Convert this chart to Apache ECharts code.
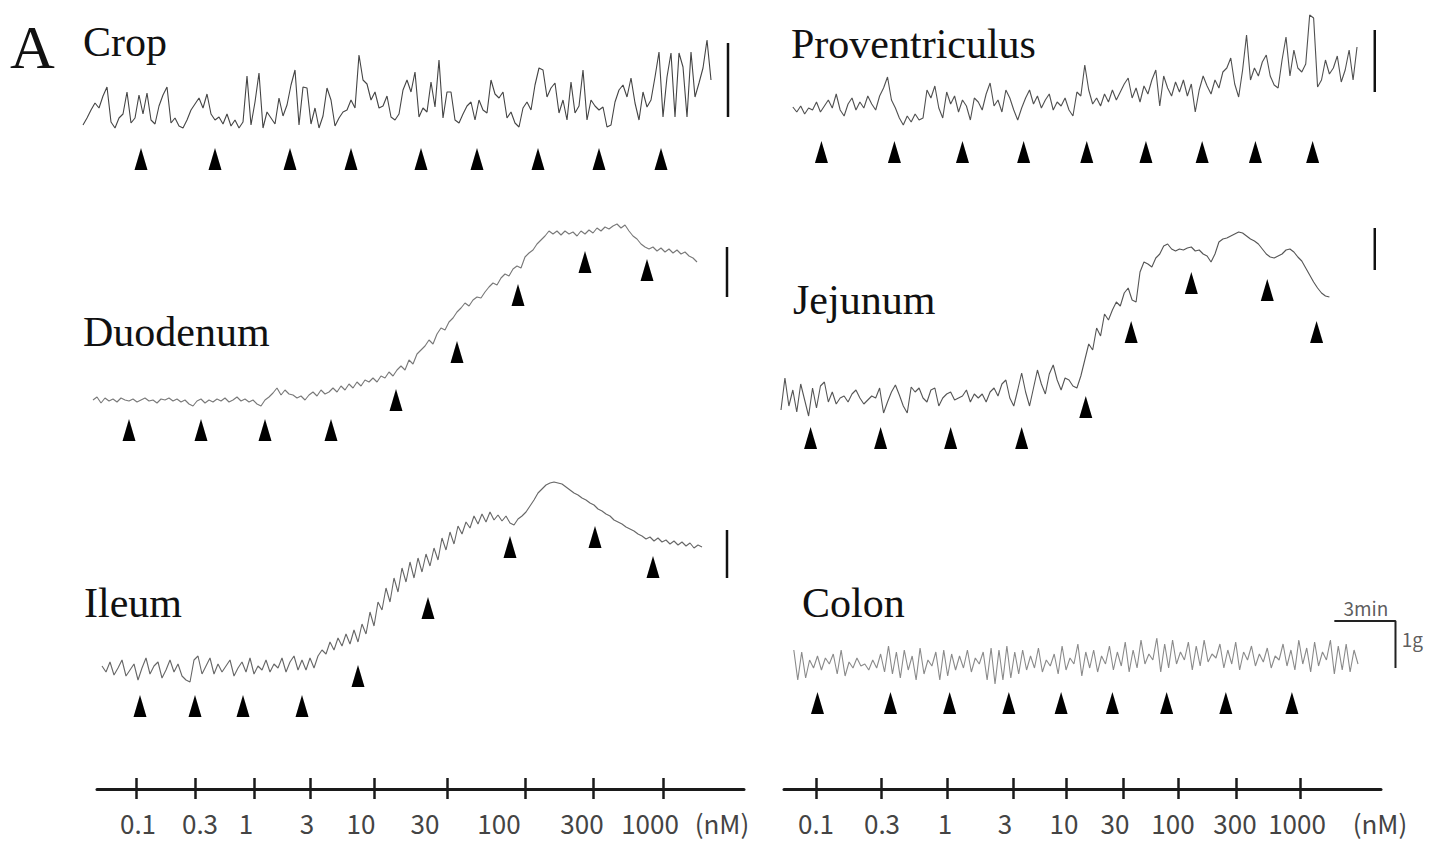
<!DOCTYPE html>
<html>
<head>
<meta charset="utf-8">
<script src="https://cdn.jsdelivr.net/npm/echarts@6/dist/echarts.min.js"></script>
<style>
html,body{margin:0;padding:0;background:#ffffff;}
#chart{width:1431px;height:843px;}
</style>
</head>
<body>
<div id="chart"></div>
<script>
// ================= DATA (read from the reference recording) =================
// time base: arbitrary time units (3 min = 62 units), one sample every SAMPLE_STEP units
// tension: arbitrary units (1 g = 47 units)
const SAMPLE_STEP = 4;

// ---- Crop ----
const cropStart = 3;
const cropTrace = [
  55,62,70,77,72,84,93,58,52,62,
  66,88,57,62,85,66,87,60,56,74,
  85,93,57,62,54,52,60,70,76,82,
  72,86,66,60,63,56,66,54,60,52,
  58,104,55,78,107,52,68,62,56,82,
  64,75,95,110,55,93,92,56,72,52,
  64,92,80,54,62,68,70,80,72,125,
  100,96,80,88,72,74,84,63,60,66,
  90,100,88,108,63,72,68,98,73,120,
  62,88,88,60,57,66,74,78,60,80,
  70,67,100,86,82,88,62,68,57,53,
  72,78,70,95,112,110,83,92,97,67,
  80,60,98,67,74,110,60,80,74,70,
  73,53,55,78,90,95,83,102,77,60,
  88,73,80,103,128,63,103,127,63,127,
  113,63,128,83,97,112,140,100
];
const cropDoseTimes = [61,135,210,271,341,397,458,519,581];
const cropArrowLevels = [21,21,21,21,21,21,21,21,21];
const cropBarTime = 648, cropBarRange = [63,137];

// ---- Proventriculus ----
const provStart = 13;
const provTrace = [
  73,68,74,66,72,70,78,68,74,80,
  72,86,70,64,76,82,70,78,72,84,
  76,70,84,92,103,80,72,62,55,64,
  58,66,60,62,90,82,94,72,62,88,
  76,84,68,80,74,60,82,78,70,86,
  97,74,80,68,90,82,70,60,72,82,
  90,76,84,72,80,86,70,78,74,82,
  70,64,88,84,115,90,76,82,74,86,
  78,90,80,88,96,102,82,92,78,94,
  86,100,110,74,104,92,84,98,88,100,
  84,96,68,90,104,94,86,100,92,108,
  112,122,96,83,110,145,100,112,104,118,
  125,104,95,92,120,143,104,130,112,108,
  116,165,162,93,100,120,106,112,124,98,
  110,130,100,133
];
const provDoseTimes = [42,116,185,247,311,371,428,482,540];
const provArrowLevels = [28,28,28,28,28,28,28,28,28];
const provBarTime = 603, provBarRange = [88,150];

// ---- Duodenum ----
const duodStart = 13;
const duodTrace = [
  50,53,47,52,49,51,48,52,50,49,
  51,48,50,52,49,50,47,51,50,52,
  49,51,48,50,46,44,49,51,47,50,
  48,51,49,52,48,50,53,49,51,48,
  50,46,44,50,53,57,62,55,60,56,
  55,52,54,50,55,58,54,60,56,58,
  62,58,64,60,66,62,68,64,70,68,
  72,68,74,72,78,74,80,84,80,90,
  86,96,100,104,110,106,116,122,120,128,
  132,138,142,147,144,150,153,152,158,163,
  167,165,172,176,174,181,184,182,193,197,
  200,206,210,214,219,216,219,215,219,216,
  218,214,219,216,220,217,222,219,223,221,
  224,226,222,225,219,214,211,206,203,201,
  203,199,202,198,201,197,200,196,198,194,192,188
];
const duodDoseTimes = [49,121,185,251,316,377,438,505,567];
const duodArrowLevels = [20,20,20,20,50,98,155,188,180];
const duodBarTime = 647, duodBarRange = [153,203];

// ---- Jejunum ----
const jejStart = 1;
const jejTrace = [
  40,72,44,60,38,66,50,34,62,42,
  64,68,48,58,46,52,54,48,56,60,
  52,46,50,54,52,62,37,48,58,65,
  55,44,37,63,58,62,52,48,60,62,
  44,52,56,58,50,52,54,60,48,56,
  52,56,48,58,62,54,66,70,52,44,
  60,77,58,44,62,80,66,56,76,85,
  70,60,72,70,64,62,74,
  90,106,100,122,114,136,130,140,148,144,
  157,162,150,148,178,188,186,183,192,196,
  204,206,201,199,201,200,202,203,199,200,
  196,194,188,196,208,211,212,214,216,218,
  217,214,211,209,206,201,196,193,192,194,
  196,200,201,198,193,189,182,175,168,162,157,154,153
];
const jejDoseTimes = [31,102,173,245,310,356,417,494,544];
const jejArrowLevels = [12,12,12,12,43,118,167,160,118];
const jejBarTime = 603, jejBarRange = [180,222];

// ---- Ileum ----
const ileumStart = 22;
const ileumTrace = [
  64,58,68,55,62,70,54,60,66,50,
  62,72,56,64,68,52,60,70,58,66,
  54,50,48,70,74,56,64,72,56,66,
  58,64,70,54,62,68,58,72,56,64,
  60,70,58,66,62,72,58,68,74,60,
  70,60,72,62,74,80,76,88,80,92,
  84,96,86,100,88,106,96,118,104,128,
  120,142,128,152,138,162,148,168,152,172,
  158,176,164,182,170,192,180,198,186,204,
  196,208,202,214,206,216,208,218,210,215,
  209,214,207,205,211,214,218,224,230,237,
  241,245,247,248,247,246,243,240,237,235,
  232,230,227,225,221,219,216,214,210,208,
  206,203,201,199,196,194,191,193,189,192,
  188,190,186,189,185,188,184,187,182,185,183
];
const ileumDoseTimes = [60,115,163,222,278,348,430,515,573];
const ileumArrowLevels = [24,24,24,24,54,122,183,193,163];
const ileumBarTime = 647, ileumBarRange = [152,200];

// ---- Colon ----
const colonStart = 14;
const colonTrace = [
  80,50,78,52,70,62,74,60,72,66,
  76,56,80,54,68,62,72,64,66,60,
  70,62,76,58,84,56,78,52,80,60,
  74,50,82,56,70,64,78,50,80,54,
  76,60,74,62,80,58,72,66,78,50,
  82,46,80,50,84,52,78,56,80,60,
  74,62,82,58,70,64,76,56,84,60,
  72,66,86,54,78,62,80,58,74,66,
  84,60,78,64,88,58,80,62,90,66,
  76,70,92,58,86,62,90,66,78,70,
  88,60,84,64,90,68,76,72,86,62,
  80,66,88,60,78,70,84,64,76,68,
  82,62,74,70,86,64,80,60,90,66,
  82,58,88,64,78,70,90,56,84,60,
  86,58,80,66
];
const colonDoseTimes = [38,112,172,232,285,337,392,452,519];
const colonArrowLevels = [27,27,27,27,27,27,27,27,27];
// calibration bar: 3 min horizontal, 1 g vertical
const colonBarTimes = [562,624];
const colonBarLevels = [62,109];
const colonBarTexts = ['3min','1g'];

// ---- dose axes (nM) ----
const doseLabels = ['0.1','0.3','1','3','10','30','100','300','1000','(nM)'];
const leftTickTimes = [56,115,174,230,294,367,445,513,583];
const leftLabelTimes = [58,120,166,227,281,345,419,502,570,642];
const leftAxisRange = [17,664];
const rightTickTimes = [36,101,167,233,286,343,398,456,520];
const rightLabelTimes = [36,102,165,225,284,335,393,455,517,600];
const rightAxisRange = [4,601];

const panelTitles = ['Crop','Proventriculus','Duodenum','Jejunum','Ileum','Colon'];

// ================= CHART =================
const chart = echarts.init(document.getElementById('chart'), null, {renderer:'svg'});

const LEFT = 80, RIGHT = 780;
const panels = [
  {trace:cropTrace, start:cropStart, doses:cropDoseTimes, levels:cropArrowLevels, bar:[cropBarTime,cropBarRange], color:'#444',
   grid:{left:LEFT, top:0, width:680, height:180}},
  {trace:provTrace, start:provStart, doses:provDoseTimes, levels:provArrowLevels, bar:[provBarTime,provBarRange], color:'#505050',
   grid:{left:RIGHT, top:0, width:660, height:180}},
  {trace:duodTrace, start:duodStart, doses:duodDoseTimes, levels:duodArrowLevels, bar:[duodBarTime,duodBarRange], color:'#777',
   grid:{left:LEFT, top:200, width:680, height:250}},
  {trace:jejTrace, start:jejStart, doses:jejDoseTimes, levels:jejArrowLevels, bar:[jejBarTime,jejBarRange], color:'#555',
   grid:{left:RIGHT, top:200, width:660, height:250}},
  {trace:ileumTrace, start:ileumStart, doses:ileumDoseTimes, levels:ileumArrowLevels, bar:[ileumBarTime,ileumBarRange], color:'#666',
   grid:{left:LEFT, top:460, width:680, height:270}},
  {trace:colonTrace, start:colonStart, doses:colonDoseTimes, levels:colonArrowLevels, bar:null, color:'#8a8a8a',
   grid:{left:RIGHT, top:580, width:660, height:150}}
];

const grids = [], xAxes = [], yAxes = [], series = [];
panels.forEach((p, i) => {
  grids.push(Object.assign({containLabel:false}, p.grid));
  xAxes.push({gridIndex:i, type:'value', min:0, max:p.grid.width, show:false});
  yAxes.push({gridIndex:i, type:'value', min:0, max:p.grid.height, show:false});
  series.push({
    type:'line', xAxisIndex:i, yAxisIndex:i, symbol:'none', clip:false, silent:true,
    lineStyle:{color:p.color, width:1.1},
    data:p.trace.map((v, k) => [p.start + k * SAMPLE_STEP, v])
  });
  series.push({
    type:'scatter', xAxisIndex:i, yAxisIndex:i, symbol:'triangle', symbolSize:[13,22], clip:false, silent:true,
    itemStyle:{color:'#000', opacity:1},
    data:p.doses.map((t, k) => [t, p.levels[k]])
  });
  if (p.bar) {
    series.push({
      type:'line', xAxisIndex:i, yAxisIndex:i, symbol:'none', clip:false, silent:true,
      lineStyle:{color:'#111', width:2.5},
      data:[[p.bar[0], p.bar[1][0]], [p.bar[0], p.bar[1][1]]]
    });
  }
});
// colon calibration bar (3 min / 1 g)
series.push({
  type:'line', xAxisIndex:5, yAxisIndex:5, symbol:'none', clip:false, silent:true,
  lineStyle:{color:'#222', width:2},
  data:[[colonBarTimes[0], colonBarLevels[1]], [colonBarTimes[1], colonBarLevels[1]], [colonBarTimes[1], colonBarLevels[0]]]
});
series.push({
  type:'scatter', xAxisIndex:5, yAxisIndex:5, symbolSize:0, clip:false, silent:true,
  label:{show:true, position:'inside', formatter:'{b}', fontFamily:'Noto Sans CJK SC', fontSize:19, color:'#333'},
  data:[
    {name:colonBarTexts[0], value:[(colonBarTimes[0] + colonBarTimes[1]) / 2 + 1, colonBarLevels[1] + 14]},
    {name:colonBarTexts[1], value:[colonBarTimes[1] + 17, (colonBarLevels[0] + colonBarLevels[1]) / 2 + 6]}
  ]
});

// dose axes
const axisFont = {fontFamily:'Noto Sans CJK SC', fontSize:26, color:'#444'};
function doseAxes(gridIdx, range, ticks, labelTimes) {
  const main = {
    gridIndex:gridIdx, type:'value', min:range[0], max:range[1], position:'bottom',
    axisLine:{show:true, onZero:false, lineStyle:{color:'#1a1a1a', width:3}},
    axisTick:{show:true, customValues:ticks, length:10, lineStyle:{color:'#1a1a1a', width:2.5}},
    axisLabel:Object.assign({show:true, customValues:labelTimes, margin:20,
      showMinLabel:true, showMaxLabel:true,
      formatter:(v) => { const k = labelTimes.indexOf(v); return k >= 0 ? doseLabels[k] : ''; }}, axisFont),
    splitLine:{show:false}
  };
  const inner = {
    gridIndex:gridIdx, type:'value', min:range[0], max:range[1], position:'bottom', offset:0,
    axisLine:{show:false, onZero:false},
    axisTick:{show:true, inside:true, customValues:ticks, length:11, lineStyle:{color:'#1a1a1a', width:2.5}},
    axisLabel:{show:false}, splitLine:{show:false}
  };
  return [main, inner];
}
grids.push({left:97, top:740, width:647, height:49});
grids.push({left:784, top:740, width:597, height:49});
yAxes.push({gridIndex:6, type:'value', min:0, max:1, show:false});
yAxes.push({gridIndex:7, type:'value', min:0, max:1, show:false});
xAxes.push(...doseAxes(6, leftAxisRange, leftTickTimes, leftLabelTimes));
xAxes.push(...doseAxes(7, rightAxisRange, rightTickTimes, rightLabelTimes));

const serif = {fontFamily:'Liberation Serif', fontWeight:'normal', color:'#111'};
const titleSpots = [[83,21],[791,23],[83,311],[793,279],[84,582],[802,582]];
const titles = [{text:'A', left:10, top:16, padding:0, textStyle:Object.assign({fontSize:62}, serif)}];
panelTitles.forEach((t, i) => titles.push({
  text:t, left:titleSpots[i][0], top:titleSpots[i][1], padding:0,
  textStyle:Object.assign({fontSize:42}, serif)
}));

chart.setOption({
  animation:false,
  backgroundColor:'#ffffff',
  title:titles,
  grid:grids,
  xAxis:xAxes,
  yAxis:yAxes,
  series:series
});
</script>
</body>
</html>
